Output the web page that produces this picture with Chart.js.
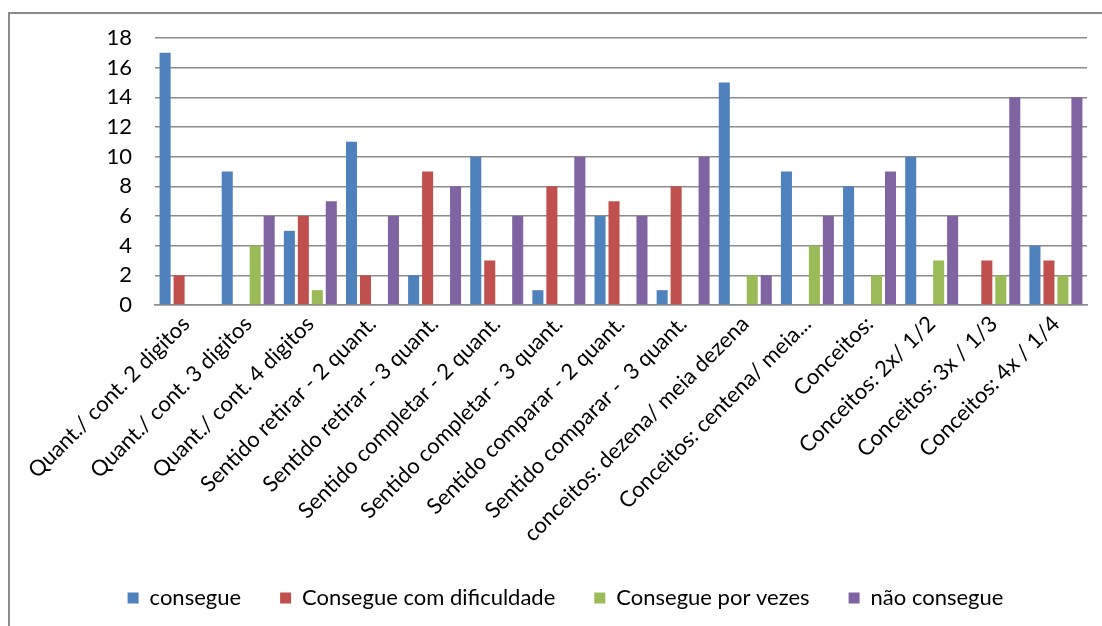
<!DOCTYPE html>
<html>
<head>
<meta charset="utf-8">
<script src="https://cdn.jsdelivr.net/npm/chart.js@4.4.1/dist/chart.umd.min.js"></script>
<style>
  html, body { margin: 0; padding: 0; background: #fff; overflow: hidden; }
  #wrap { position: relative; width: 1102px; height: 626px; overflow: hidden; }
  #frame { position: absolute; left: 8px; top: 12px; width: 1200px; height: 700px;
           border-left: 2px solid #8c8c8c; border-top: 2px solid #8c8c8c; }
  #chart { position: absolute; left: 0; top: 0; }
</style>
</head>
<body>
<div id="wrap">
  <div id="frame"></div>
  <canvas id="chart" width="1102" height="626"></canvas>
</div>
<script>
// categorias avaliadas
const categories = [
  "Quant./ cont. 2 digitos",
  "Quant./ cont. 3 digitos",
  "Quant./ cont. 4 digitos",
  "Sentido retirar - 2 quant.",
  "Sentido retirar - 3 quant.",
  "Sentido completar - 2 quant.",
  "Sentido completar - 3 quant.",
  "Sentido comparar - 2 quant.",
  "Sentido comparar -  3 quant.",
  "conceitos: dezena/ meia dezena",
  "Conceitos: centena/ meia...",
  "Conceitos:",
  "Conceitos: 2x/ 1/2",
  "Conceitos: 3x / 1/3",
  "Conceitos: 4x / 1/4"
];

const seriesNames = ["consegue", "Consegue com dificuldade", "Consegue por vezes", "não consegue"];
const seriesColors = ["#4f81bd", "#c0504d", "#9bbb59", "#8064a2"];

const consegue       = [17, 9, 5, 11, 2, 10, 1, 6, 1, 15, 9, 8, 10, 0, 4];
const comDificuldade = [2, 0, 6, 2, 9, 3, 8, 7, 8, 0, 0, 0, 0, 3, 3];
const porVezes       = [0, 4, 1, 0, 0, 0, 0, 0, 0, 2, 4, 2, 3, 2, 2];
const naoConsegue    = [0, 6, 7, 6, 8, 6, 10, 6, 10, 2, 6, 9, 6, 14, 14];

const yMax = 18;
const yStep = 2;

const seriesValues = [consegue, comDificuldade, porVezes, naoConsegue];

Chart.defaults.font.family = "Lato, 'Open Sans', sans-serif";
Chart.defaults.color = "#000";

const ctx = document.getElementById("chart").getContext("2d");
new Chart(ctx, {
  type: "bar",
  data: {
    labels: categories,
    datasets: seriesNames.map((name, i) => ({
      label: name,
      data: seriesValues[i],
      backgroundColor: seriesColors[i],
      borderWidth: 0,
      categoryPercentage: 0.9,
      barPercentage: 0.79
    }))
  },
  options: {
    responsive: false,
    animation: false,
    layout: { padding: { left: 44, right: 15, top: 38, bottom: 7 } },
    plugins: {
      tooltip: { enabled: false },
      legend: {
        position: "bottom",
        labels: {
          boxWidth: 11,
          boxHeight: 11,
          padding: 39,
          font: { size: 22 }
        }
      }
    },
    scales: {
      x: {
        grid: { display: false, drawTicks: false },
        border: { display: true, color: "#8c8c8c", width: 1.5 },
        ticks: {
          autoSkip: false,
          maxRotation: 45,
          minRotation: 45,
          padding: 6,
          font: { size: 22 }
        },
        afterFit: scale => { scale.height = 243; }
      },
      y: {
        min: 0,
        max: yMax,
        grid: { color: "#8c8c8c", lineWidth: 1.5, drawTicks: false },
        border: { display: false },
        ticks: {
          stepSize: yStep,
          padding: 23,
          font: { size: 22 }
        },
        afterFit: scale => { scale.width = 111; }
      }
    }
  }
});
</script>
</body>
</html>
